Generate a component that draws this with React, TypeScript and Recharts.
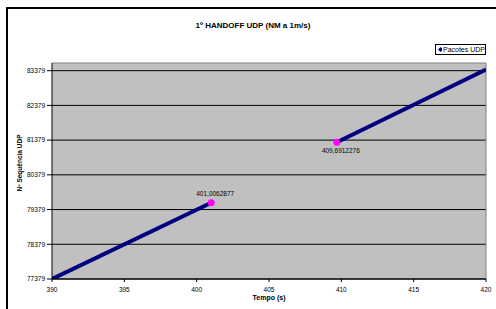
import React from 'react';
import {
  ComposedChart,
  Line,
  Scatter,
  XAxis,
  YAxis,
  CartesianGrid,
  ReferenceLine,
  Label,
} from 'recharts';

// Pacotes UDP, before and after the handoff
const beforeHandoff = [
  { t: 390, seq: 77379 },
  { t: 401.0062877, seq: 79576 },
];
const afterHandoff = [
  { t: 409.6912276, seq: 81316 },
  { t: 420, seq: 83413 },
];
const lastBefore = [beforeHandoff[1]];
const firstAfter = [afterHandoff[0]];

const xTicks = [390, 395, 400, 405, 410, 415, 420];
const yTicks = [77379, 78379, 79379, 80379, 81379, 82379, 83379];

const FONT = '"Liberation Sans", Arial, sans-serif';
const fmt = (v: number) => String(v).replace('.', ',');

const endDot = (above: boolean) => (props: any) => {
  const { cx, cy, payload } = props;
  return (
    <g>
      <circle cx={cx} cy={cy} r={3.5} fill="#FF00FF" />
      <text
        x={cx + 4}
        y={above ? cy - 7 : cy + 11}
        textAnchor="middle"
        fontSize={6.5}
        fontFamily={FONT}
        fill="#000"
      >
        {fmt(payload.t)}
      </text>
    </g>
  );
};

export default function App() {
  return (
    <div
      style={{
        position: 'absolute',
        left: 6,
        top: 7,
        width: 488,
        height: 300,
        borderLeft: '2px solid #000',
        borderTop: '2px solid #000',
        background: '#fff',
        overflow: 'hidden',
        fontFamily: FONT,
      }}
    >
      <div
        style={{
          position: 'absolute',
          left: 0,
          top: 12,
          width: 490,
          textAlign: 'center',
          fontSize: 8,
          fontWeight: 'bold',
        }}
      >
        1º HANDOFF UDP (NM a 1m/s)
      </div>
      <div
        style={{
          position: 'absolute',
          left: 427,
          top: 35,
          width: 49,
          height: 9,
          border: '1px solid #000',
          background: '#fff',
          fontSize: 7,
          lineHeight: '9px',
          whiteSpace: 'nowrap',
          display: 'flex',
          alignItems: 'center',
        }}
      >
        <svg width={7} height={9} style={{ marginLeft: 1 }}>
          <polygon points="3.5,2 6,4.5 3.5,7 1,4.5" fill="#000080" />
        </svg>
        <span style={{ marginLeft: 1 }}>Pacotes UDP</span>
      </div>
      <ComposedChart
        width={488}
        height={300}
        margin={{ top: 54, right: 10, bottom: 0, left: 0 }}
      >
        <CartesianGrid
          vertical={false}
          horizontalValues={yTicks}
          stroke="#000"
          fill="#C0C0C0"
          fillOpacity={1}
        />
        <XAxis
          type="number"
          dataKey="t"
          domain={[390, 420]}
          ticks={xTicks}
          height={30}
          allowDataOverflow
          stroke="#000"
          tickSize={3}
          tickMargin={5}
          tick={{ fontSize: 6.5, fill: '#000', fontFamily: FONT }}
        >
          <Label
            value="Tempo (s)"
            position="center"
            dy={4}
            style={{ fontSize: 7, fontWeight: 'bold', fill: '#000', fontFamily: FONT }}
          />
        </XAxis>
        <YAxis
          type="number"
          dataKey="seq"
          domain={[77379, 83600]}
          ticks={yTicks}
          width={44}
          allowDataOverflow
          stroke="#000"
          tickSize={5}
          tickMargin={2}
          tick={{ fontSize: 6.5, fill: '#000', fontFamily: FONT }}
        >
          <Label
            value="Nº Sequência UDP"
            angle={-90}
            position="center"
            dx={-10}
            dy={-8}
            style={{ fontSize: 6.5, fontWeight: 'bold', fill: '#000', fontFamily: FONT, textAnchor: 'middle' }}
          />
        </YAxis>
        <ReferenceLine y={83600} stroke="#808080" />
        <ReferenceLine x={420} stroke="#808080" />
        <Line
          data={beforeHandoff}
          dataKey="seq"
          stroke="#000080"
          strokeWidth={4}
          dot={false}
          isAnimationActive={false}
        />
        <Line
          data={afterHandoff}
          dataKey="seq"
          stroke="#000080"
          strokeWidth={4}
          dot={false}
          isAnimationActive={false}
        />
        <Scatter data={lastBefore} dataKey="seq" shape={endDot(true)} isAnimationActive={false} />
        <Scatter data={firstAfter} dataKey="seq" shape={endDot(false)} isAnimationActive={false} />
      </ComposedChart>
    </div>
  );
}
